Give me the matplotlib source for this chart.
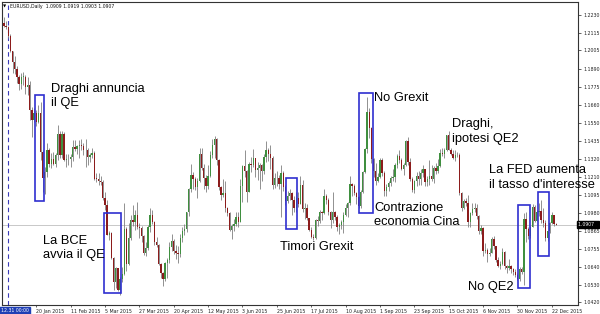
import numpy as np
import pandas as pd
import matplotlib
matplotlib.use("Agg")
import matplotlib.pyplot as plt
from matplotlib.patches import Rectangle
import matplotlib.transforms as mtransforms

###### DATA ######
# daily bars, 29 Dec 2014 .. 24 Dec 2015 (no bar on 1 Jan)
dates = pd.bdate_range("2014-12-29", "2015-12-24")
dates = dates[dates != pd.Timestamp("2015-01-01")]

first_open = 1.2180

closes = [
    # Dec 2014
    1.2160, 1.2155, 1.2098,
    # Jan
    1.2002, 1.1933, 1.1890, 1.1838, 1.1793, 1.1840, 1.1840, 1.1775, 1.1788, 1.1628,
    1.1566, 1.1610, 1.1555, 1.1610, 1.1365, 1.1203, 1.1238, 1.1380, 1.1289, 1.1319, 1.1290,
    # Feb
    1.1345, 1.1480, 1.1344, 1.1477, 1.1314, 1.1320, 1.1321, 1.1332, 1.1398, 1.1387,
    1.1400, 1.1410, 1.1405, 1.1375, 1.1379, 1.1333, 1.1345, 1.1360, 1.1197, 1.1196,
    # Mar
    1.1182, 1.1176, 1.1076, 1.1031, 1.0843, 1.0854, 1.0698, 1.0549, 1.0631, 1.0495,
    1.0566, 1.0595, 1.0880, 1.0660, 1.0820, 1.0935, 1.0925, 1.0965, 1.0890, 1.0888,
    1.0835, 1.0730,
    # Apr
    1.0760, 1.0890, 1.0970, 1.0925, 1.0800, 1.0780, 1.0660, 1.0600, 1.0565, 1.0665,
    1.0685, 1.0765, 1.0805, 1.0740, 1.0730, 1.0725, 1.0825, 1.0870, 1.0880, 1.0985,
    1.1130, 1.1220,
    # May
    1.1195, 1.1145, 1.1180, 1.1350, 1.1265, 1.1200, 1.1150, 1.1215, 1.1345, 1.1410,
    1.1445, 1.1315, 1.1145, 1.1095, 1.1105, 1.1010, 1.0980, 1.0875, 1.0900, 1.0910,
    1.0955,
    # Jun
    1.0925, 1.1150, 1.1275, 1.1245, 1.1110, 1.1290, 1.1285, 1.1325, 1.1250, 1.1265,
    1.1285, 1.1245, 1.1335, 1.1375, 1.1350, 1.1330, 1.1160, 1.1200, 1.1200, 1.1165,
    1.1235, 1.1145,
    # Jul
    1.1055, 1.1085, 1.1105, 1.1060, 1.1010, 1.1075, 1.1040, 1.1160, 1.1005, 1.1015,
    1.0950, 1.0875, 1.0830, 1.0825, 1.0935, 1.0930, 1.0985, 1.0980, 1.1090, 1.1060,
    1.0985, 1.0935, 1.0985,
    # Aug
    1.0955, 1.0890, 1.0905, 1.0925, 1.0965, 1.1015, 1.1045, 1.1165, 1.1150, 1.1105,
    1.1080, 1.1025, 1.1115, 1.1240, 1.1385, 1.1615, 1.1515, 1.1320, 1.1245, 1.1180,
    1.1210,
    # Sep
    1.1315, 1.1230, 1.1120, 1.1145, 1.1170, 1.1200, 1.1205, 1.1280, 1.1340, 1.1315,
    1.1260, 1.1285, 1.1435, 1.1300, 1.1195, 1.1125, 1.1185, 1.1215, 1.1195, 1.1235,
    1.1255, 1.1175,
    # Oct
    1.1195, 1.1215, 1.1195, 1.1265, 1.1245, 1.1275, 1.1360, 1.1355, 1.1380, 1.1470,
    1.1380, 1.1350, 1.1330, 1.1345, 1.1345, 1.1105, 1.1015, 1.1055, 1.1045, 1.0925,
    1.0980, 1.1005,
    # Nov
    1.1015, 1.0960, 1.0865, 1.0885, 1.0740, 1.0750, 1.0725, 1.0730, 1.0815, 1.0770,
    1.0685, 1.0645, 1.0660, 1.0735, 1.0645, 1.0635, 1.0645, 1.0625, 1.0610, 1.0590,
    1.0565,
    # Dec
    1.0630, 1.0610, 1.0940, 1.0880, 1.0835, 1.0895, 1.1020, 1.0930, 1.0990, 1.0995,
    1.0935, 1.0915, 1.0825, 1.0865, 1.0920, 1.0965, 1.0909, 1.0907,
]

highs = [
    1.2218, 1.2190, 1.2160,
    1.2110, 1.1965, 1.1972, 1.1907, 1.1848, 1.1860, 1.1868, 1.1848, 1.1840, 1.1810,
    1.1650, 1.1640, 1.1627, 1.1660, 1.1680, 1.1375, 1.1270, 1.1423, 1.1390, 1.1360, 1.1365,
    1.1360, 1.1534, 1.1500, 1.1498, 1.1488, 1.1350, 1.1350, 1.1350, 1.1440, 1.1440,
    1.1410, 1.1440, 1.1450, 1.1420, 1.1450, 1.1390, 1.1360, 1.1390, 1.1370, 1.1230,
    1.1230, 1.1215, 1.1190, 1.1110, 1.1065, 1.0870, 1.0860, 1.0705, 1.0640, 1.0635,
    1.0580, 1.0640, 1.1043, 1.0890, 1.0915, 1.0970, 1.1030, 1.1000, 1.1052, 1.0920,
    1.0900, 1.0840,
    1.0795, 1.0905, 1.1010, 1.1000, 1.0930, 1.0830, 1.0785, 1.0665, 1.0610, 1.0675,
    1.0700, 1.0800, 1.0850, 1.0815, 1.0780, 1.0775, 1.0850, 1.0890, 1.0910, 1.0990,
    1.1140, 1.1290,
    1.1240, 1.1210, 1.1200, 1.1390, 1.1390, 1.1290, 1.1220, 1.1280, 1.1370, 1.1445,
    1.1467, 1.1455, 1.1320, 1.1150, 1.1195, 1.1185, 1.1020, 1.0990, 1.0910, 1.0945,
    1.0990,
    1.0985, 1.1195, 1.1280, 1.1380, 1.1250, 1.1300, 1.1335, 1.1385, 1.1330, 1.1300,
    1.1295, 1.1290, 1.1350, 1.1435, 1.1390, 1.1410, 1.1340, 1.1230, 1.1245, 1.1220,
    1.1280, 1.1245,
    1.1155, 1.1120, 1.1135, 1.1110, 1.1090, 1.1110, 1.1110, 1.1215, 1.1190, 1.1045,
    1.1035, 1.0950, 1.0890, 1.0850, 1.0945, 1.0960, 1.1000, 1.0995, 1.1130, 1.1100,
    1.1075, 1.0995, 1.1110,
    1.0995, 1.0970, 1.0915, 1.0935, 1.0985, 1.1040, 1.1050, 1.1215, 1.1170, 1.1165,
    1.1115, 1.1085, 1.1125, 1.1245, 1.1390, 1.1714, 1.1640, 1.1525, 1.1325, 1.1295,
    1.1230,
    1.1330, 1.1325, 1.1245, 1.1165, 1.1180, 1.1215, 1.1260, 1.1295, 1.1355, 1.1375,
    1.1330, 1.1295, 1.1440, 1.1460, 1.1325, 1.1210, 1.1190, 1.1240, 1.1245, 1.1255,
    1.1285, 1.1255,
    1.1215, 1.1315, 1.1285, 1.1275, 1.1295, 1.1320, 1.1385, 1.1390, 1.1390, 1.1475,
    1.1495, 1.1390, 1.1375, 1.1380, 1.1365, 1.1360, 1.1115, 1.1070, 1.1075, 1.1095,
    1.0990, 1.1045,
    1.1045, 1.1035, 1.0970, 1.0905, 1.0895, 1.0790, 1.0760, 1.0760, 1.0830, 1.0835,
    1.0745, 1.0705, 1.0680, 1.0760, 1.0740, 1.0655, 1.0690, 1.0655, 1.0635, 1.0625,
    1.0605,
    1.0640, 1.0640, 1.0982, 1.0990, 1.0890, 1.0900, 1.1040, 1.1030, 1.1000, 1.1045,
    1.1060, 1.1010, 1.0935, 1.0870, 1.0925, 1.0990, 1.0965, 1.0919,
]

lows = [
    1.2155, 1.2140, 1.2085,
    1.1997, 1.1864, 1.1855, 1.1802, 1.1754, 1.1763, 1.1785, 1.1730, 1.1727, 1.1568,
    1.1460, 1.1555, 1.1530, 1.1545, 1.1315, 1.1114, 1.1098, 1.1210, 1.1270, 1.1262, 1.1280,
    1.1270, 1.1315, 1.1330, 1.1325, 1.1310, 1.1270, 1.1280, 1.1270, 1.1310, 1.1370,
    1.1355, 1.1325, 1.1378, 1.1345, 1.1270, 1.1280, 1.1300, 1.1330, 1.1190, 1.1175,
    1.1160, 1.1160, 1.1060, 1.1000, 1.0840, 1.0810, 1.0690, 1.0495, 1.0510, 1.0490,
    1.0462, 1.0545, 1.0590, 1.0615, 1.0650, 1.0810, 1.0900, 1.0875, 1.0880, 1.0820,
    1.0800, 1.0715,
    1.0710, 1.0750, 1.0860, 1.0910, 1.0780, 1.0765, 1.0655, 1.0570, 1.0520, 1.0555,
    1.0570, 1.0665, 1.0740, 1.0720, 1.0690, 1.0665, 1.0705, 1.0800, 1.0845, 1.0860,
    1.0960, 1.1115,
    1.1135, 1.1125, 1.1075, 1.1175, 1.1250, 1.1130, 1.1110, 1.1130, 1.1210, 1.1330,
    1.1325, 1.1285, 1.1125, 1.1065, 1.1080, 1.0990, 1.0960, 1.0865, 1.0819, 1.0870,
    1.0900,
    1.0890, 1.0925, 1.1050, 1.1210, 1.1050, 1.1110, 1.1240, 1.1270, 1.1210, 1.1190,
    1.1130, 1.1185, 1.1225, 1.1300, 1.1310, 1.1260, 1.1135, 1.1140, 1.1150, 1.1135,
    1.0955, 1.1120,
    1.1030, 1.1045, 1.1060, 1.0970, 1.0985, 1.0990, 1.1020, 1.1040, 1.0990, 1.0940,
    1.0935, 1.0865, 1.0820, 1.0808, 1.0815, 1.0900, 1.0915, 1.0935, 1.0975, 1.1040,
    1.0970, 1.0885, 1.0920,
    1.0935, 1.0870, 1.0848, 1.0880, 1.0855, 1.0960, 1.0955, 1.1030, 1.1085, 1.1095,
    1.1040, 1.1015, 1.1015, 1.1105, 1.1235, 1.1360, 1.1455, 1.1295, 1.1205, 1.1155,
    1.1175,
    1.1200, 1.1215, 1.1085, 1.1085, 1.1120, 1.1150, 1.1180, 1.1175, 1.1265, 1.1295,
    1.1250, 1.1220, 1.1275, 1.1285, 1.1180, 1.1115, 1.1105, 1.1150, 1.1160, 1.1155,
    1.1210, 1.1150,
    1.1150, 1.1160, 1.1185, 1.1170, 1.1225, 1.1230, 1.1270, 1.1340, 1.1330, 1.1370,
    1.1375, 1.1345, 1.1320, 1.1310, 1.1335, 1.1095, 1.0995, 1.1005, 1.1025, 1.0895,
    1.0895, 1.0965,
    1.0990, 1.0945, 1.0850, 1.0850, 1.0710, 1.0730, 1.0675, 1.0710, 1.0730, 1.0755,
    1.0675, 1.0640, 1.0625, 1.0655, 1.0630, 1.0600, 1.0620, 1.0600, 1.0590, 1.0575,
    1.0560,
    1.0555, 1.0595, 1.0524, 1.0800, 1.0815, 1.0820, 1.0890, 1.0925, 1.0930, 1.0960,
    1.0915, 1.0895, 1.0805, 1.0805, 1.0855, 1.0910, 1.0900, 1.0903,
]

price_ticks = [1.2230, 1.2115, 1.2005, 1.1890, 1.1775, 1.1660, 1.1550, 1.1435, 1.1320,
               1.1210, 1.1095, 1.0980, 1.0865, 1.0755, 1.0640, 1.0530, 1.0420]
date_labels = ["20 Jan 2015", "11 Feb 2015", "5 Mar 2015", "27 Mar 2015", "20 Apr 2015",
               "12 May 2015", "3 Jun 2015", "25 Jun 2015", "17 Jul 2015", "10 Aug 2015",
               "1 Sep 2015", "23 Sep 2015", "15 Oct 2015", "6 Nov 2015", "30 Nov 2015",
               "22 Dec 2015"]

# event boxes: (first day, last day, low, high)
boxes = [
    ("2015-01-20", "2015-01-23", 1.1058, 1.1724),
    ("2015-03-05", "2015-03-16", 1.0475, 1.0979),
    ("2015-07-02", "2015-07-08", 1.0878, 1.1203),
    ("2015-08-19", "2015-08-26", 1.0979, 1.1735),
    ("2015-12-01", "2015-12-07", 1.0506, 1.1031),
    ("2015-12-14", "2015-12-18", 1.0709, 1.1111),
]
# event notes: (text, left x in bars, centre price)
notes = [
    ("Draghi annuncia\nil QE", 21.8, 1.1718),
    ("La BCE\navvia il QE", 18.3, 1.0760),
    ("Timori Grexit", 128.5, 1.0766),
    ("No Grexit", 172.0, 1.1705),
    ("Contrazione\neconomia Cina", 172.2, 1.0968),
    ("Draghi,\nipotesi QE2", 208.3, 1.1494),
    ("No QE2", 216.0, 1.0514),
    ("La FED aumenta\nil tasso d'interesse", 225.9, 1.1204),
]
last_price = 1.0907

###### PLOT ######
closes = np.array(closes)
opens = np.r_[first_open, closes[:-1]]
highs = np.maximum(np.array(highs), np.maximum(opens, closes))
lows = np.minimum(np.array(lows), np.minimum(opens, closes))
x = np.arange(len(dates))
day_pos = {d: i for i, d in enumerate(dates)}

fig = plt.figure(figsize=(6, 3.14), dpi=100)
ax = fig.add_axes([2 / 600, 9 / 314, 576.3 / 600, 303.3 / 314])

up = closes >= opens
body_col = np.where(up, "#3f8f3f", "#8c1c1c")
ax.vlines(x, lows, highs, colors="#7f7f7f", lw=0.6, zorder=2)
body_h = np.maximum(np.abs(closes - opens), 0.00025)
ax.bar(x, body_h, bottom=np.minimum(opens, closes), width=0.62,
       color=body_col, linewidth=0, zorder=3)

# current price line and vertical marker on 31 Dec
ax.axhline(last_price, color="#c8c8c8", lw=0.7, zorder=1)
ax.axvline(day_pos[pd.Timestamp("2014-12-31")], color="#3a3ab8", lw=0.8,
           ls=(0, (4, 3)), zorder=1)

for d0, d1, lo, hi in boxes:
    i0 = day_pos[pd.Timestamp(d0)] - 0.6
    i1 = day_pos[pd.Timestamp(d1)] + 0.6
    ax.add_patch(Rectangle((i0, lo), i1 - i0, hi - lo, fill=False,
                           edgecolor="#2f2fcf", lw=1.2, zorder=4))

for txt, xi, yp in notes:
    ax.text(xi, yp, txt, fontsize=9.3, family="Liberation Sans", color="black",
            va="center", ha="left", linespacing=1.3, zorder=5)

ax.set_xlim(-0.93, 267.3)
ax.set_ylim(1.0401, 1.2312)

ax.yaxis.tick_right()
ax.set_yticks(price_ticks)
ax.set_yticklabels([f"{p:.4f}" for p in price_ticks])
ax.tick_params(axis="y", labelsize=3.4, length=2, width=0.5, pad=1.5, colors="#222222")

tick_x = [day_pos[pd.Timestamp(lbl)] for lbl in date_labels]
ax.set_xticks(tick_x)
ax.set_xticklabels(date_labels, ha="left")
ax.tick_params(axis="x", labelsize=3.4, length=1.5, width=0.5, pad=1.2, colors="#222222")

for s in ax.spines.values():
    s.set_linewidth(0.8)
    s.set_color("#333333")

# header and axis boxes
ax.text(0.002, 0.985, "\u25bc", transform=ax.transAxes, fontsize=3, va="center", ha="left")
ax.text(0.014, 0.985, "EURUSD,Daily  1.0909 1.0919 1.0903 1.0907",
        transform=ax.transAxes, fontsize=3.3, va="center", ha="left", color="#111111")

trans = mtransforms.blended_transform_factory(ax.transAxes, ax.transData)
ax.text(1.0, last_price, "1.0907  ", transform=trans, fontsize=3.3, color="white",
        va="center", ha="left", clip_on=False, zorder=6,
        bbox=dict(boxstyle="square,pad=0.25", fc="black", ec="black"))
fig.text(0.001, 0.011, "12.31 00:00", fontsize=3.3, color="white", va="center", ha="left",
         bbox=dict(boxstyle="square,pad=0.25", fc="#1f3fb5", ec="#1f3fb5"))

fig.savefig("out.png", dpi=100, facecolor="white")
